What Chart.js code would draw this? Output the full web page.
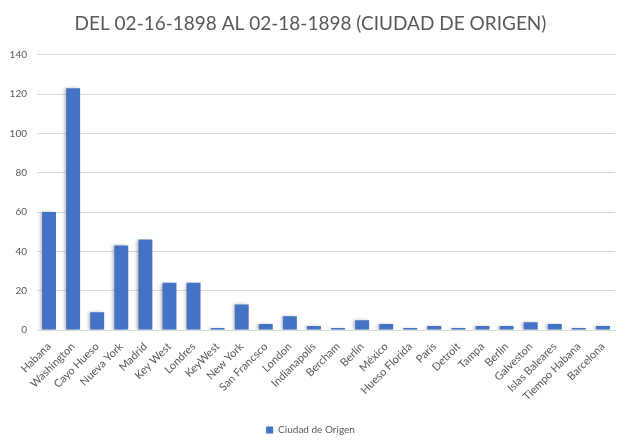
<!DOCTYPE html>
<html>
<head>
<meta charset="utf-8">
<script src="https://cdn.jsdelivr.net/npm/chart.js@4/dist/chart.umd.min.js"></script>
<style>
  html, body { margin: 0; padding: 0; background: #fff; }
  #wrap { width: 631px; height: 447px; position: relative; }
</style>
</head>
<body>
<div id="wrap"><canvas id="chart"></canvas></div>
<script>
const titleText = 'DEL 02-16-1898 AL 02-18-1898 (CIUDAD DE ORIGEN)';
const seriesName = 'Ciudad de Origen';

const cities = [
  'Habana', 'Washington', 'Cayo Hueso', 'Nueva York', 'Madrid', 'Key West',
  'Londres', 'KeyWest', 'New York', 'San Francsco', 'London', 'Indianapolis',
  'Bercham', 'Berlín', 'México', 'Hueso Florida', 'París', 'Detroit',
  'Tampa', 'Berlin', 'Galveston', 'Islas Baleares', 'Tiempo Habana', 'Barcelona'
];
const counts = [60, 123, 9, 43, 46, 24, 24, 1, 13, 3, 7, 2, 1, 5, 3, 1, 2, 1, 2, 2, 4, 3, 1, 2];
const yTicks = [0, 20, 40, 60, 80, 100, 120, 140];

// soft shadow under the bars, like the spreadsheet style
const barShadow = {
  id: 'barShadow',
  beforeDatasetsDraw(chart) {
    const ctx = chart.ctx;
    ctx.save();
    ctx.shadowColor = 'rgba(0,0,0,0.25)';
    ctx.shadowBlur = 3;
    ctx.shadowOffsetX = -2;
    ctx.shadowOffsetY = 0;
  },
  afterDatasetsDraw(chart) {
    chart.ctx.restore();
  }
};

const textColor = '#595959';
const font = "Lato, 'Open Sans', sans-serif";

new Chart(document.getElementById('chart').getContext('2d'), {
  type: 'bar',
  data: {
    labels: cities,
    datasets: [{
      label: seriesName,
      data: counts,
      backgroundColor: '#4472C4',
      borderWidth: 0,
      categoryPercentage: 1,
      barPercentage: 0.58
    }]
  },
  options: {
    responsive: true,
    maintainAspectRatio: false,
    animation: false,
    layout: { padding: { left: 6, right: 16, top: 8, bottom: 2 } },
    plugins: {
      title: {
        display: true,
        text: titleText,
        color: textColor,
        font: { family: font, size: 19, weight: 'normal' },
        padding: { top: 4, bottom: 20 }
      },
      legend: {
        position: 'bottom',
        labels: {
          color: textColor,
          font: { family: font, size: 10 },
          boxWidth: 7,
          boxHeight: 7,
          padding: 8
        }
      },
      tooltip: { enabled: false }
    },
    scales: {
      x: {
        grid: { display: false },
        border: { color: '#d9d9d9' },
        afterFit(axis) { axis.height = 87; },
        ticks: {
          color: textColor,
          font: { family: font, size: 11 },
          maxRotation: 45,
          minRotation: 45,
          autoSkip: false,
          padding: 2
        }
      },
      y: {
        min: 0,
        max: 140,
        afterBuildTicks(axis) {
          axis.ticks = yTicks.map(v => ({ value: v }));
        },
        afterFit(axis) { axis.width = 31; },
        grid: { color: '#d9d9d9', drawTicks: false },
        border: { display: false },
        ticks: {
          color: textColor,
          font: { family: font, size: 10 },
          padding: 10
        }
      }
    }
  },
  plugins: [barShadow]
});
</script>
</body>
</html>
